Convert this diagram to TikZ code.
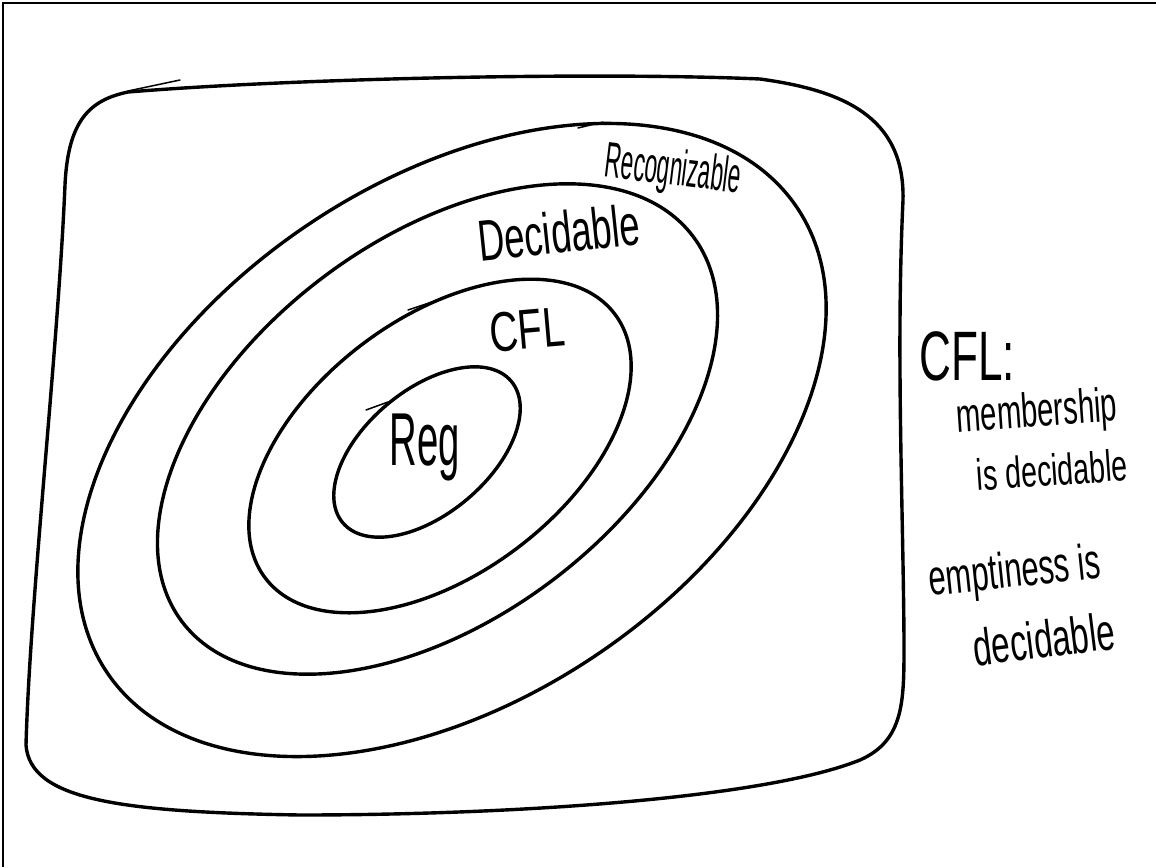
\documentclass[tikz,border=0pt]{standalone}
\usepackage{fontspec}
\setmainfont{Liberation Sans}
\begin{document}
\begin{tikzpicture}[x=1pt,y=-1pt,
  pen/.style={line width=3.4pt, line cap=round, line join=round},
  thinpen/.style={line width=1.5pt, line cap=round},
  hand/.style={inner sep=0pt, anchor=center}]
\useasboundingbox (0,0) rectangle (1156,867);
\fill[white] (0,0) rectangle (1156,867);
% page frame
\draw[line width=1.6pt] (3,867) -- (3,3) -- (1156,3);

% outer rounded box (all languages)
\draw[pen] (128,92) .. controls (90,100) and (68,120) .. (65,185)
  .. controls (58,350) and (30,600) .. (26,745)
  .. controls (30,800) and (120,812) .. (300,815)
  .. controls (500,815) and (760,800) .. (860,760)
  .. controls (905,740) and (904,700) .. (904,640)
  .. controls (903,500) and (896,350) .. (903,200)
  .. controls (905,115) and (840,90) .. (760,79)
  .. controls (600,72) and (300,78) .. (128,92);
\draw[thinpen] (128,91) -- (180,80);

% nested classes
\draw[pen, rotate around={34:(452,440)}] (452,440) ellipse [x radius=416, y radius=259];
\draw[thinpen] (578,128) -- (603,122);
\draw[pen, rotate around={37:(437.5,429)}] (437.5,429) ellipse [x radius=320, y radius=190];
\draw[pen, rotate around={37:(440,446)}] (440,446) ellipse [x radius=219, y radius=128];
\draw[thinpen] (408,310) -- (432,302);
\draw[pen, rotate around={40:(427,452)}] (427,452) ellipse [x radius=110, y radius=62];
\draw[thinpen] (366,410) -- (388,402);

% class labels
\node[hand, xscale=0.51, font=\fontsize{75}{80}\selectfont] (reg) at (425,447) {Reg};
\node[hand, rotate=5, xscale=0.71, font=\fontsize{56}{60}\selectfont] (cfl) at (527,330) {CFL};
\node[hand, rotate=6, xscale=0.63, font=\fontsize{58}{62}\selectfont] (dec) at (559,232) {Decidable};
\node[hand, rotate=-7, xscale=0.45, font=\fontsize{50}{54}\selectfont] (rec) at (673,172) {Recognizable};

% side notes
\node[hand, xscale=0.63, font=\fontsize{70}{74}\selectfont] (note) at (967,356) {CFL:};
\node[hand, rotate=4, xscale=0.61, font=\fontsize{48}{52}\selectfont] (mem) at (1037,414) {membership};
\node[hand, rotate=4, xscale=0.65, font=\fontsize{44}{48}\selectfont] (memdec) at (1052,470) {is decidable};
\node[hand, rotate=6, xscale=0.62, font=\fontsize{50}{54}\selectfont] (emp) at (1015,574) {emptiness is};
\node[hand, rotate=7, xscale=0.64, font=\fontsize{52}{56}\selectfont] (empdec) at (1044,639) {decidable};
\end{tikzpicture}
\end{document}
